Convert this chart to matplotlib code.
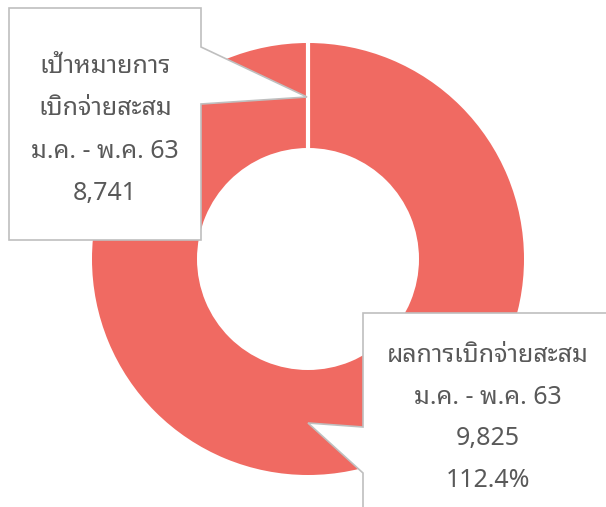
import matplotlib
matplotlib.use("Agg")
import matplotlib.pyplot as plt
from matplotlib.patches import Polygon

# ---- data ----
target_label = ["เป้าหมายการ", "เบิกจ่ายสะสม", "ม.ค. - พ.ค. 63"]
actual_label = ["ผลการเบิกจ่ายสะสม", "ม.ค. - พ.ค. 63"]
target_value = 8741
actual_value = 9825
actual_pct = 112.4

FONT = ["Noto Sans", "Noto Sans Thai Looped", "DejaVu Sans"]
TXT = "#595959"
RED = "#F06A62"
EDGE = "#BFBFBF"

W, H = 606, 507
fig = plt.figure(figsize=(W / 100, H / 100), dpi=100)
ax = fig.add_axes([0, 0, 1, 1])

cx, cy, R = 308, 259, 216
ring = 105
values = [actual_value, max(target_value - actual_value, 0)]
wedges, _ = ax.pie(values, colors=[RED, RED], startangle=90, counterclock=False,
                   center=(cx, cy), radius=R,
                   wedgeprops=dict(width=ring, edgecolor="none"))
# separator at the start of the ring
ax.plot([cx, cx], [cy - R - 2, cy - R + ring + 2], color="white", lw=3.0,
        solid_capstyle="butt", zorder=3)

ax.set_xlim(0, W)
ax.set_ylim(H, 0)
ax.set_aspect("equal")
ax.axis("off")

FS = 18

# callout 1
p1 = Polygon([(9, 8), (201, 8), (201, 47), (307, 97), (201, 104), (201, 240), (9, 240)],
             closed=True, facecolor="white", edgecolor=EDGE, lw=1.2, zorder=4)
ax.add_patch(p1)
lines1 = target_label + [f"{target_value:,}"]
for i, s in enumerate(lines1):
    ax.text(105, 73 + i * 42.3, s, ha="center", va="baseline", fontsize=FS,
            color=TXT, family=FONT, zorder=5)

# callout 2
p2 = Polygon([(363, 313), (615, 313), (615, 515), (363, 515), (363, 473), (308, 423), (363, 427)],
             closed=True, facecolor="white", edgecolor=EDGE, lw=1.2, zorder=4)
ax.add_patch(p2)
lines2 = actual_label + [f"{actual_value:,}", f"{actual_pct:.1f}%"]
for i, s in enumerate(lines2):
    ax.text(488, 362 + i * 41.7, s, ha="center", va="baseline", fontsize=FS,
            color=TXT, family=FONT, zorder=5)

fig.savefig("out.png", dpi=100, facecolor="white")
